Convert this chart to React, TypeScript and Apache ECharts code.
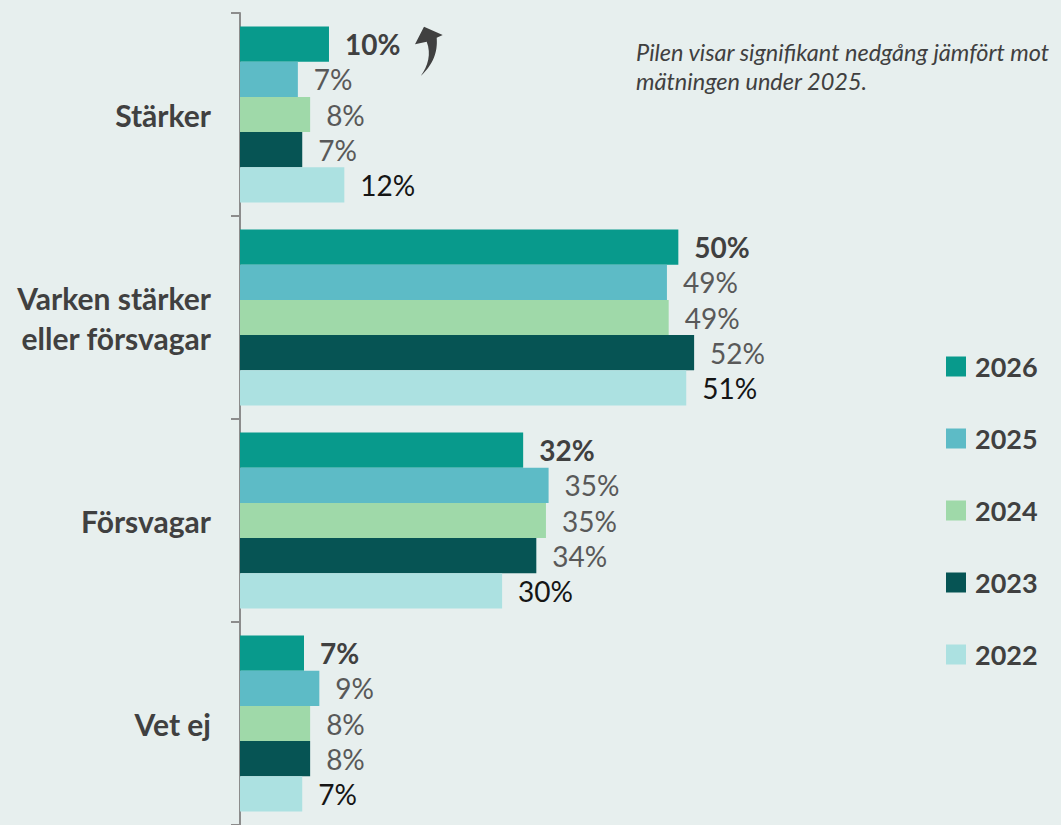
import React, { useEffect, useRef } from "react";
import * as echarts from "echarts";

const categories = ["Stärker", "Varken stärker\neller försvagar", "Försvagar", "Vet ej"];
const years = ["2026", "2025", "2024", "2023", "2022"];
const values2026 = [10.15, 50.0, 32.3, 7.3];
const values2025 = [6.6, 48.7, 35.2, 9.05];
const values2024 = [8.0, 48.9, 34.9, 8.0];
const values2023 = [7.1, 51.8, 33.8, 8.0];
const values2022 = [11.9, 50.9, 29.9, 7.1];
const seriesValues = [values2026, values2025, values2024, values2023, values2022];
const colors = ["#089A8C", "#5DBBC6", "#9FD9A9", "#065454", "#ACE1E1"];
const labelColors = ["#404040", "#595959", "#595959", "#595959", "#151515"];
const labelWeights = ["bold", "normal", "normal", "normal", "normal"];
const noteLines = ["Pilen visar signifikant nedgång jämfört mot", "mätningen under 2025."];

const ARROW_D =
  "M9 0.7 L27.7 9 L21.7 11.7 C22.5 22 21 36 5.7 50 C13 40 16.5 28 11.7 15.7 L0 18.3 Z";
echarts.graphic.registerShape("sigArrow", echarts.graphic.extendPath(ARROW_D, {}));

const FONT = "Lato, 'Open Sans', sans-serif";

export default function App() {
  const ref = useRef<HTMLDivElement>(null);
  useEffect(() => {
    document.body.style.margin = "0";
    document.body.style.background = "#E7EFEE";
    const chart = echarts.init(ref.current!, null, { renderer: "svg" });
    chart.setOption({
      animation: false,
      backgroundColor: "#E7EFEE",
      textStyle: { fontFamily: FONT },
      grid: { left: 240, right: 295, top: 13, bottom: -5, containLabel: false },
      xAxis: { type: "value", min: 0, max: 60, show: false },
      yAxis: {
        type: "category",
        inverse: true,
        data: categories,
        axisLine: { show: true, lineStyle: { color: "#8C8C8C", width: 2 } },
        axisTick: { show: true, length: 9, lineStyle: { color: "#8C8C8C", width: 2 } },
        axisLabel: {
          fontSize: 30,
          fontWeight: "bold",
          color: "#404040",
          margin: 29,
          lineHeight: 40,
          fontFamily: FONT,
        },
      },
      legend: {
        orient: "vertical",
        left: 946,
        top: 353,
        itemWidth: 20,
        itemHeight: 20,
        itemGap: 45,
        padding: 0,
        icon: "rect",
        data: years,
        textStyle: {
          fontSize: 27,
          fontWeight: "bold",
          color: "#404040",
          lineHeight: 20,
          fontFamily: FONT,
          padding: [0, 0, 0, 4],
        },
      },
      series: years.map((y, i) => ({
        name: y,
        type: "bar",
        data: seriesValues[i],
        barGap: "0%",
        barCategoryGap: "13.2%",
        itemStyle: { color: colors[i] },
        label: {
          show: true,
          position: "right",
          distance: 16,
          fontSize: 28,
          fontFamily: FONT,
          fontWeight: labelWeights[i],
          color: labelColors[i],
          formatter: (p: any) => Math.round(p.value) + "%",
        },
      })),
      graphic: [
        { type: "sigArrow", x: 415, y: 26, style: { fill: "#404040" } },
        {
          type: "text",
          x: 636,
          y: 52,
          style: {
            text: noteLines[0],
            font: "italic 23.5px " + FONT,
            fill: "#404040",
            verticalAlign: "middle",
          },
        },
        {
          type: "text",
          x: 636,
          y: 81,
          style: {
            text: noteLines[1],
            font: "italic 23.5px " + FONT,
            fill: "#404040",
            verticalAlign: "middle",
          },
        },
      ],
    });
    return () => chart.dispose();
  }, []);
  return (
    <div
      ref={ref}
      style={{ position: "absolute", left: 0, top: 0, width: 1061, height: 825 }}
    />
  );
}
